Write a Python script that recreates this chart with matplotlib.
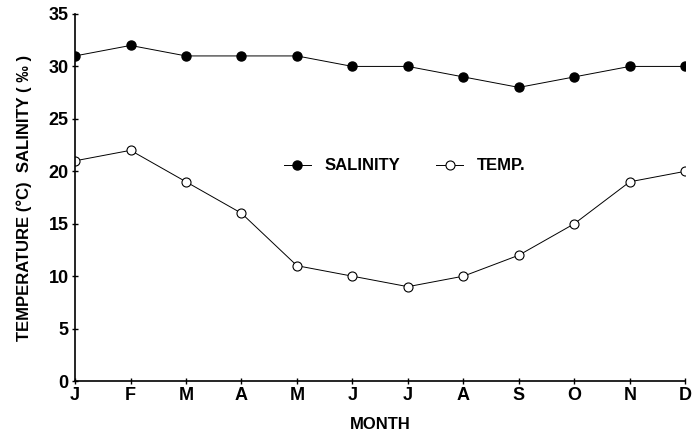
import matplotlib
matplotlib.use("Agg")
import matplotlib.pyplot as plt

months = ["J", "F", "M", "A", "M", "J", "J", "A", "S", "O", "N", "D"]
salinity = [31, 32, 31, 31, 31, 30, 30, 29, 28, 29, 30, 30]
temperature = [21, 22, 19, 16, 11, 10, 9, 10, 12, 15, 19, 20]

plt.rcParams['font.family'] = ['Liberation Sans', 'DejaVu Sans']
plt.rcParams['font.weight'] = 'bold'
plt.rcParams['axes.labelweight'] = 'bold'

figure = plt.figure(figsize=(6.95, 4.37), dpi=100)
plot = figure.add_axes([0.108, 0.128, 0.878, 0.84])
x = range(len(months))
plot.plot(x, salinity, color="black", lw=0.7, marker="o", markersize=6.5,
          markerfacecolor="black", label="SALINITY")
plot.plot(x, temperature, color="black", lw=0.7, marker="o", markersize=6.5,
          markerfacecolor="white", markeredgewidth=0.8, label="TEMP.")

plot.set_xlim(0, 11)
plot.set_ylim(0, 35)
plot.set_xticks(list(x))
plot.set_xticklabels(months)
plot.set_yticks(range(0, 36, 5))
plot.spines["top"].set_visible(False)
plot.spines["right"].set_visible(False)
plot.spines["left"].set_linewidth(1.2)
plot.spines["bottom"].set_linewidth(1.2)
plot.tick_params(direction="inout", length=5, width=1, labelsize=13, pad=2)
plot.set_xlabel("MONTH", fontsize=12, labelpad=9)
plot.set_ylabel("TEMPERATURE (°C)  SALINITY ( ‰ )", fontsize=12, labelpad=12)
plot.legend(loc="center", bbox_to_anchor=(0.54, 0.586), ncol=2, frameon=False,
            fontsize=12, handlelength=1.6, columnspacing=2.2, handletextpad=0.8)

figure.savefig("out.png", dpi=100)
